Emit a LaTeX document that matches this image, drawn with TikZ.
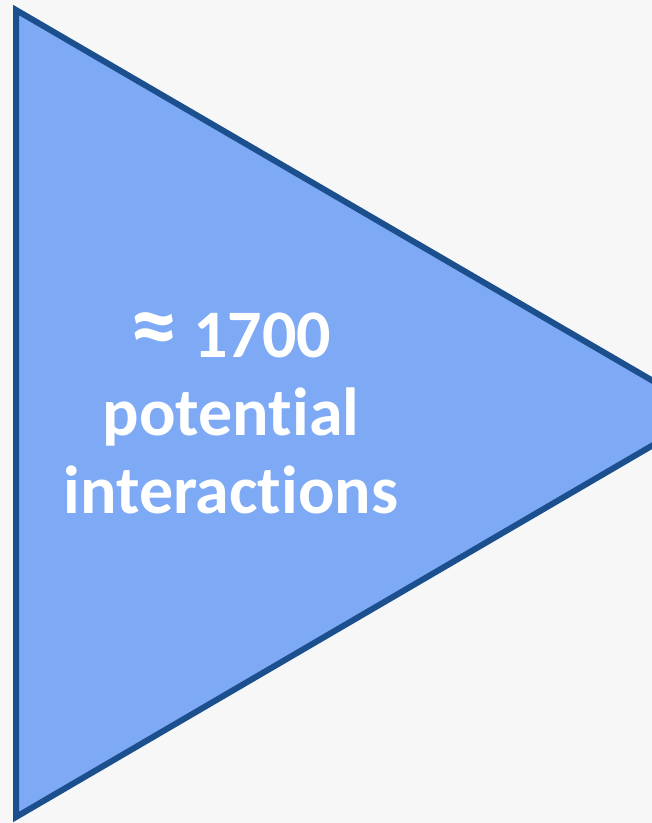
\documentclass[tikz,border=0pt]{standalone}
\usepackage{fontspec}
\setmainfont{Carlito}[Ligatures=NoCommon]
\usepackage{xcolor}
\definecolor{bggrey}{HTML}{F7F7F7}
\definecolor{triblue}{HTML}{7EAAF5}
\definecolor{edgeblue}{HTML}{1B4F8E}

\begin{document}
\begin{tikzpicture}
        [
            x=1pt,y=-1pt,
            tri/.style={fill=triblue,draw=edgeblue,line width=6pt,line join=miter},
            bigtext/.style={text=white,align=center,font=\fontsize{68}{78}\selectfont\bfseries},
        ]
    \fill[bggrey] (0,0) rectangle (652,823);
    \useasboundingbox (0,0) rectangle (652,823);
    \clip (0,0) rectangle (652,823);
    \draw[tri] (16,10) -- (708,413) -- (16,817) -- cycle;
    \node[bigtext] (count) at (231,413) {{\fontsize{95}{78}\selectfont ≈} 1700\\potential\\interactions};
\end{tikzpicture}
\end{document}
